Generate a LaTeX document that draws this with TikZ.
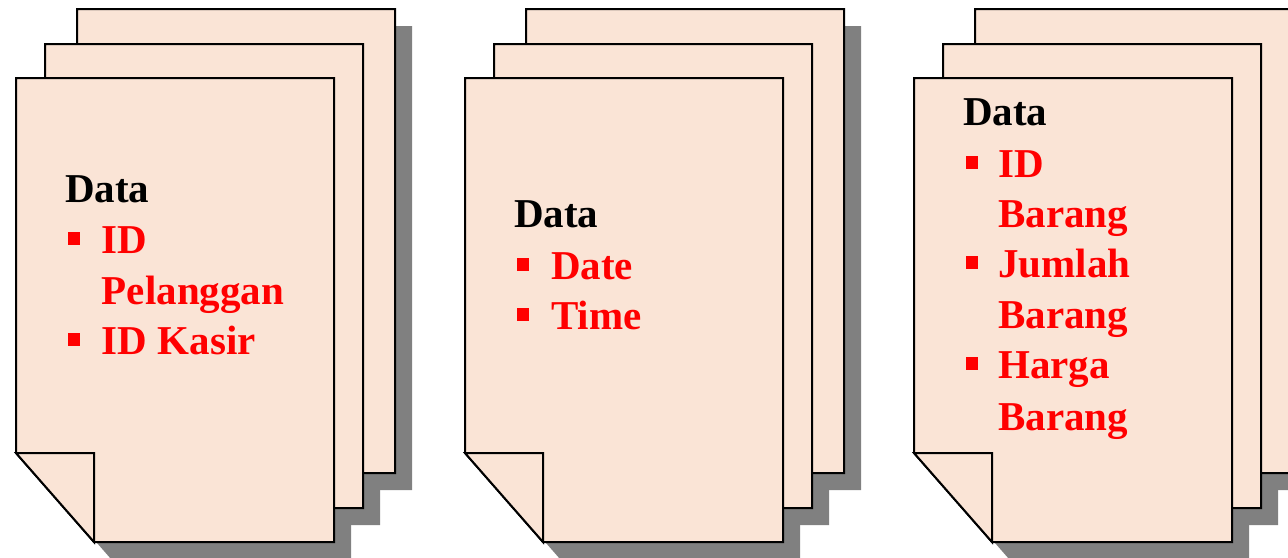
\documentclass[tikz,border=0pt]{standalone}
\usepackage{fontspec}
\setmainfont{Liberation Serif}
\definecolor{paper}{HTML}{FAE4D6}
\definecolor{shade}{HTML}{808080}
\definecolor{itemred}{HTML}{FF0000}
\tikzset{
  sheet/.style={fill=paper, draw=black, line width=2pt, line join=miter},
  sheetshadow/.style={fill=shade, draw=none},
  heading/.style={anchor=base west, inner sep=0pt,
    font=\fontsize{41}{50}\selectfont\bfseries, text=black},
  entry/.style={heading, text=itemred},
  bulletmark/.style={fill=itemred, draw=none, minimum width=12pt,
    minimum height=13pt, inner sep=0pt},
  % one sheet with a folded lower-left corner, top-left at the origin
  pics/sheetoutline/.style={code={
    \path[#1] (0,0) -- (318,0) -- (318,464) -- (78,464) -- (0,375) -- cycle;
  }},
  pics/sheetpaper/.style={code={
    \draw[sheet] (0,0) -- (318,0) -- (318,464) -- (78,464) -- (0,375) -- cycle;
    \draw[sheet] (0,375) -- (78,375) -- (78,464) -- cycle;
  }},
  % a stack of three such sheets with a drop shadow behind them
  pics/stack/.style={code={
    \pic at (78,-52) {sheetoutline=sheetshadow};
    \pic at (46,-17) {sheetoutline=sheetshadow};
    \pic at (17,17) {sheetoutline=sheetshadow};
    \pic at (61,-69) {sheetpaper};
    \pic at (29,-34) {sheetpaper};
    \pic at (0,0) {sheetpaper};
  }},
}
\begin{document}
\begin{tikzpicture}[x=1pt, y=-1pt]
  \useasboundingbox (0,0) rectangle (1288,557);
  \clip (0,0) rectangle (1288,557);

  \pic (s1) at (16,78) {stack};
  \pic (s2) at (465,78) {stack};
  \pic (s3) at (914,78) {stack};

  % first stack
  \node[heading] (h1) at (65,202) {Data};
  \node[bulletmark] (b11) at (74,238.5) {};
  \node[entry] (e11) at (101.7,253) {ID};
  \node[entry] (e12) at (101.7,304) {Pelanggan};
  \node[bulletmark] (b12) at (74,339.5) {};
  \node[entry] (e13) at (101.7,354) {ID Kasir};

  % second stack
  \node[heading] (h2) at (514,227) {Data};
  \node[bulletmark] (b21) at (523,264.5) {};
  \node[entry] (e21) at (551,279) {Date};
  \node[bulletmark] (b22) at (523,314.5) {};
  \node[entry] (e22) at (551,329) {Time};

  % third stack
  \node[heading] (h3) at (963,125) {Data};
  \node[bulletmark] (b31) at (971.5,162.5) {};
  \node[entry] (e31) at (998,177) {ID};
  \node[entry] (e32) at (998,227) {Barang};
  \node[bulletmark] (b32) at (971.5,262.5) {};
  \node[entry] (e33) at (998,277) {Jumlah};
  \node[entry] (e34) at (998,328) {Barang};
  \node[bulletmark] (b33) at (971.5,363.5) {};
  \node[entry] (e35) at (998,378) {Harga};
  \node[entry] (e36) at (998,430) {Barang};
\end{tikzpicture}
\end{document}
